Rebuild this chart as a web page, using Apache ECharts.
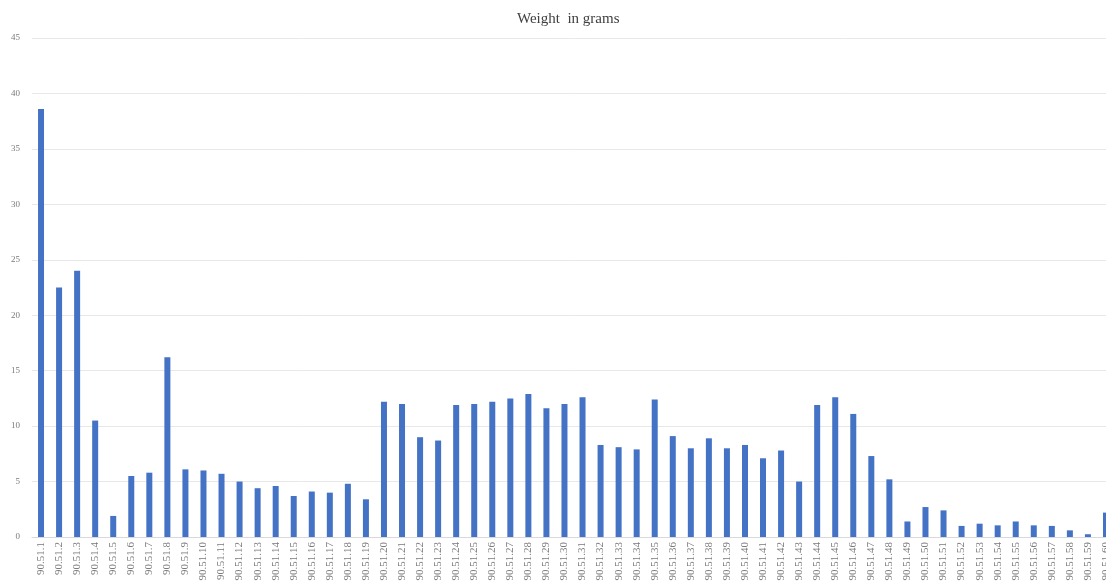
<!DOCTYPE html>
<html>
<head>
<meta charset="utf-8">
<script src="https://cdn.jsdelivr.net/npm/echarts@6/dist/echarts.min.js"></script>
<style>html,body{margin:0;padding:0;background:#fff;overflow:hidden}#c{width:1115px;height:587px}</style>
</head>
<body>
<div id="c"></div>
<script>
const categories = [];
for (let i = 1; i <= 60; i++) categories.push('90.51.' + i);
const weights = [38.6, 22.5, 24.0, 10.5, 1.9, 5.5, 5.8, 16.2, 6.1, 6.0,
  5.7, 5.0, 4.4, 4.6, 3.7, 4.1, 4.0, 4.8, 3.4, 12.2,
  12.0, 9.0, 8.7, 11.9, 12.0, 12.2, 12.5, 12.9, 11.6, 12.0,
  12.6, 8.3, 8.1, 7.9, 12.4, 9.1, 8.0, 8.9, 8.0, 8.3,
  7.1, 7.8, 5.0, 11.9, 12.6, 11.1, 7.3, 5.2, 1.4, 2.7,
  2.4, 1.0, 1.2, 1.05, 1.4, 1.05, 1.0, 0.6, 0.25, 2.2];
const yTicks = { min: 0, max: 45, interval: 5 };
const titleText = 'Weight  in grams';

const chart = echarts.init(document.getElementById('c'));
chart.setOption({
  animation: false,
  title: {
    text: titleText, left: 512, top: 7,
    textStyle: { fontFamily: 'Liberation Serif', fontSize: 15, fontWeight: 'normal', color: '#404040' }
  },
  grid: { left: 32, right: 0, top: 38, bottom: 50, containLabel: false },
  xAxis: {
    type: 'category', data: categories,
    axisLine: { lineStyle: { color: '#d9d9d9' } },
    axisTick: { show: false },
    axisLabel: { rotate: 90, interval: 0, fontSize: 11, color: '#7a7a7a', fontFamily: 'Liberation Serif', margin: 5 }
  },
  yAxis: {
    type: 'value', min: yTicks.min, max: yTicks.max, interval: yTicks.interval,
    axisLine: { show: false }, axisTick: { show: false },
    axisLabel: { fontSize: 9, color: '#7a7a7a', fontFamily: 'Liberation Serif', margin: 12 },
    splitLine: { lineStyle: { color: '#e8e8e8' } }
  },
  series: [{
    type: 'bar', data: weights, barWidth: 6,
    itemStyle: { color: '#4472C4' }
  }]
});
</script>
</body>
</html>
